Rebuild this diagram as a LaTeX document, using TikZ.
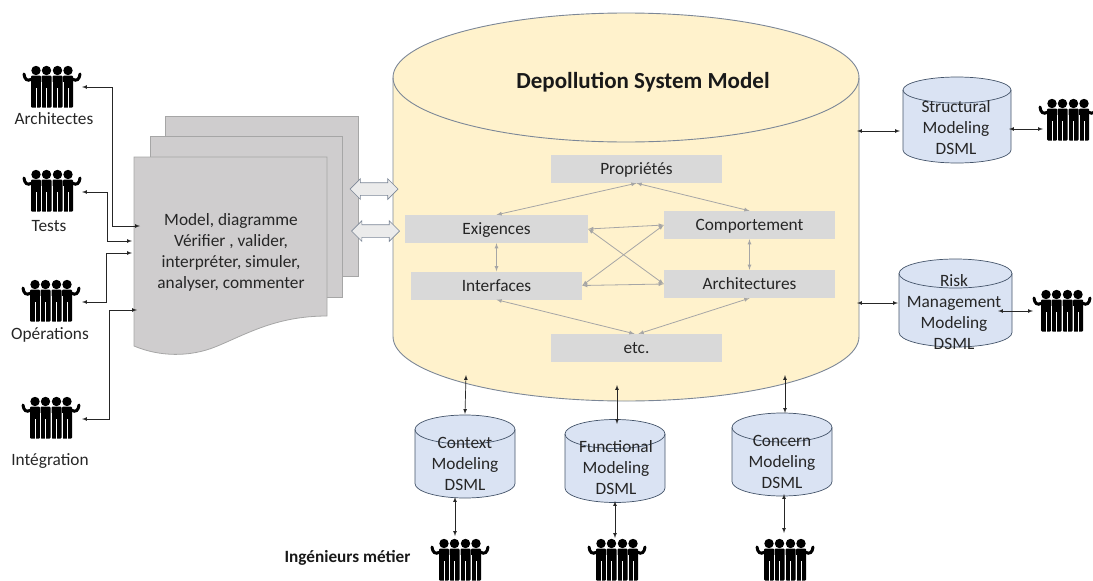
\documentclass[tikz,border=0pt]{standalone}
\usepackage{fontspec}
\setmainfont{Carlito}
\usetikzlibrary{
    arrows,
    shapes.arrows,
    positioning,
    calc
}
\definecolor{bigfill}{HTML}{FFF2CC}
\definecolor{dsmlfill}{HTML}{DAE3F3}
\definecolor{edgeblue}{HTML}{44546A}
\definecolor{docfill}{HTML}{CFCDCE}
\tikzset{
    bigcyl/.style={draw=edgeblue!70, fill=bigfill, line width=0.9pt},
    dsml/.style={draw=edgeblue, fill=dsmlfill, line width=0.7pt},
    dsmltext/.style={align=center, font=\fontsize{17.3}{21}\selectfont, text=black!85},
    greybox/.style={fill=black!15, minimum height=28pt, inner sep=0pt, text height=12.5pt, text depth=1.5pt, font=\fontsize{17.3}{20}\selectfont, text=black!85},
    greyarrow/.style={<->, >=latex, draw=black!35, line width=0.8pt},
    blackarrow/.style={<->, >=latex, draw=black!85, line width=0.7pt},
    sheet/.style={draw=black!35, fill=docfill, line width=0.8pt},
    bigarrow/.style={double arrow, double arrow head extend=4pt, draw=edgeblue!70, fill=black!8, line width=0.7pt, minimum height=48pt, inner xsep=0pt, inner ysep=6pt},
    crowdtext/.style={font=\fontsize{17.3}{20}\selectfont, text=black!85},
    crowd/.pic={
        \foreach \dx in {-16,-5.5,5.5,16} {
            \fill[black] (\dx,-16.5) circle (4.7);
            \fill[black, rounded corners=1pt] (\dx-5,-11.5) rectangle (\dx+5,20.5);
            \draw[white, line width=0.5pt] (\dx,1) -- (\dx,21);
        }
        \foreach \dx in {-10.75,0,10.75} {
            \draw[white, line width=0.5pt] (\dx,-5) -- (\dx,21);
        }
        \draw[black, line width=3pt, line cap=round] (-20,-8) .. controls (-25,-5) and (-27.5,-8) .. (-28,-13);
        \draw[black, line width=3pt, line cap=round] (20,-8) .. controls (25,-5) and (27.5,-8) .. (28,-13);
    }
}
% name, centre x, centre y, half width, half height, ellipse radius
\newcommand{\drum}[7][dsml]{
    \coordinate (#2) at (#3,#4);
    \begin{scope}[shift={(#3,#4)}]
        \draw[#1] (-#5,-#6+#7) -- (-#5,#6-#7) arc[start angle=180, end angle=0, x radius=#5, y radius=#7] -- (#5,-#6+#7) arc[start angle=0, end angle=-180, x radius=#5, y radius=#7] -- cycle;
        \draw[#1, fill=none] (-#5,-#6+#7) arc[start angle=180, end angle=0, x radius=#5, y radius=#7];
    \end{scope}
}
\begin{document}
\begin{tikzpicture}[x=1pt, y=-1pt]
    \useasboundingbox (0,0) rectangle (1093,581);
    \clip (0,0) rectangle (1093,581);
    % model cylinder
    \drum[bigcyl]{model}{626}{207}{233}{194}{64.5}
    \node[font=\fontsize{23}{26}\selectfont\bfseries, text=black!90] (title) at (643,82) {Depollution System Model};
    % sheets
    \draw[sheet] (165,116) -- (358,116) -- (358,276) -- (165,276) -- cycle;
    \draw[sheet] (150,136) -- (342,136) -- (342,297) -- (150,297) -- cycle;
    \draw[sheet] (134,157) -- (327,157) -- (327,316) .. controls (275,316) and (245,335) .. (215,347) .. controls (190,357) and (160,357) .. (134,346) -- cycle;
    \node[align=center, font=\fontsize{17.3}{21}\selectfont, text=black!85] (doc) at (231,252) {Model, diagramme\\Vérifier , valider,\\interpréter, simuler,\\analyser, commenter};
    \node[bigarrow] (dblA) at (374,189) {};
    \node[bigarrow] (dblB) at (375.5,231) {};
    % inner boxes
    \node[greybox, minimum width=171pt] (prop) at (636.5,169) {Propriétés};
    \node[greybox, minimum width=183pt] (exig) at (496.5,229) {Exigences};
    \node[greybox, minimum width=171pt] (comp) at (749.5,225) {Comportement};
    \node[greybox, minimum width=171pt] (inter) at (496.5,285.5) {Interfaces};
    \node[greybox, minimum width=171pt] (archi) at (749.5,284) {Architectures};
    \node[greybox, minimum width=171pt] (etc) at (636.5,348) {etc.};
    \draw
    (prop.south) edge[greyarrow] (exig.north)
    (prop.south) edge[greyarrow] (comp.north)
    (exig.east) edge[greyarrow] (comp.west)
    (exig.east) edge[greyarrow] (archi.west)
    (inter.east) edge[greyarrow] (comp.west)
    (inter.east) edge[greyarrow] (archi.west)
    (exig.south) edge[greyarrow] (inter.north)
    (comp.south) edge[greyarrow] (archi.north)
    (inter.south) edge[greyarrow] ([xshift=-2pt]etc.north)
    (archi.south) edge[greyarrow] ([xshift=2pt]etc.north);
    % dsml cylinders
    \drum{ctx}{465}{456.5}{50}{41.5}{14.5}
    \drum{func}{615}{461}{50}{41.5}{14.5}
    \drum{conc}{782}{454.5}{50}{41.5}{14.5}
    \drum{struc}{957}{120}{54}{43}{13}
    \drum{risk}{955.5}{303}{56.5}{44}{14.5}
    \node[dsmltext] (ctxtext) at (465,464) {Context\\Modeling\\DSML};
    \node[dsmltext] (functext) at (616,468) {Functional\\Modeling\\DSML};
    \node[dsmltext] (conctext) at (782,462) {Concern\\Modeling\\DSML};
    \node[dsmltext] (structext) at (956,128) {Structural\\Modeling\\DSML};
    \node[dsmltext] (risktext) at (954,312) {Risk\\Management\\Modeling\\DSML};
    % actors
    \pic (architectes) at (52,87) {crowd};
    \pic (tests) at (52,191) {crowd};
    \pic (operations) at (51,301) {crowd};
    \pic (integration) at (51,418) {crowd};
    \pic (metierA) at (460,560) {crowd};
    \pic (metierB) at (617,560) {crowd};
    \pic (metierC) at (785,560) {crowd};
    \pic (strucpeople) at (1068,120) {crowd};
    \pic (riskpeople) at (1062,311) {crowd};
    \node[crowdtext] (larch) at (54,119) {Architectes};
    \node[crowdtext] (ltests) at (49,226) {Tests};
    \node[crowdtext] (lops) at (50,335) {Opérations};
    \node[crowdtext] (linteg) at (50,461) {Intégration};
    \node[font=\fontsize{17.2}{20}\selectfont\bfseries, text=black!90] (lmetier) at (347.5,558) {Ingénieurs métier};
    % free ends
    \coordinate (aA) at (82,87);
    \coordinate (aB) at (140,226);
    \coordinate (tA) at (82,192);
    \coordinate (tB) at (132,241);
    \coordinate (oA) at (82,302);
    \coordinate (oB) at (132,253);
    \coordinate (iA) at (82,419);
    \coordinate (iB) at (137,310);
    \coordinate (mS) at (857,131);
    \coordinate (mR) at (857,303);
    \coordinate (mC) at (466,375);
    \coordinate (mF) at (617,385);
    \coordinate (mK) at (785,375);
    \coordinate (pC) at (455,536);
    \coordinate (pF) at (615,538);
    \coordinate (pK) at (784,533);
    \coordinate (pS) at (1043,129);
    \coordinate (pR) at (1033,311);
    \draw[blackarrow] (aA) -| (112,226) -- (aB);
    \draw[blackarrow] (tA) -| (107,241) -- (tB);
    \draw[blackarrow] (oA) -| (106,253) -- (oB);
    \draw[blackarrow] (iA) -| (109,310) -- (iB);
    \draw
    (mS) edge[blackarrow] (900,131)
    (mR) edge[blackarrow] (898,303)
    (mC) edge[blackarrow] (465,414)
    (mF) edge[blackarrow] (617,424)
    (mK) edge[blackarrow] (785,413)
    (pC) edge[blackarrow] (455,497)
    (pF) edge[blackarrow] (615,501)
    (pK) edge[blackarrow] (784,494)
    (pS) edge[blackarrow] (1009,129)
    (pR) edge[blackarrow] (998,311);
\end{tikzpicture}
\end{document}
